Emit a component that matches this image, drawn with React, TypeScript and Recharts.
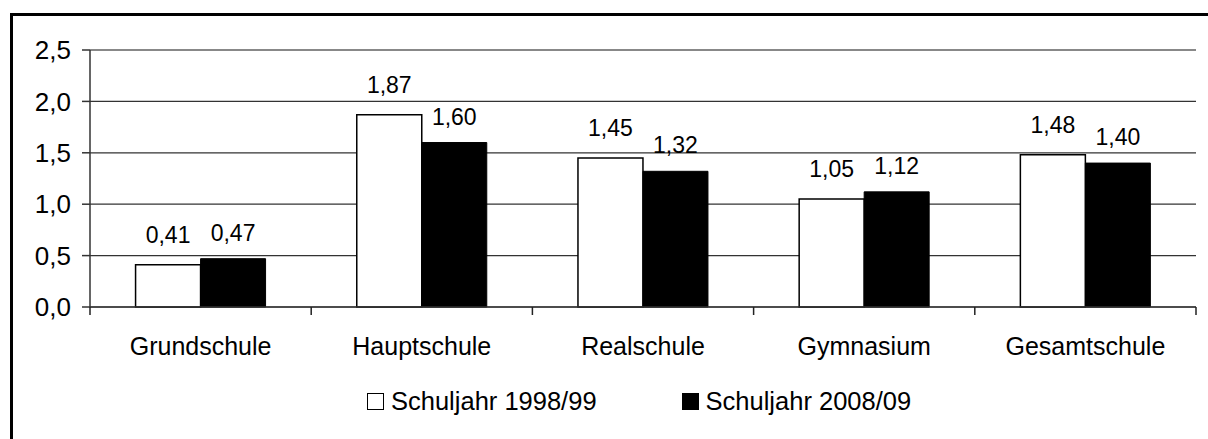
import React from "react";
import { BarChart, Bar, XAxis, YAxis, CartesianGrid, LabelList, Legend, ReferenceLine } from "recharts";

const categories = ["Grundschule", "Hauptschule", "Realschule", "Gymnasium", "Gesamtschule"];
const series1998 = [0.41, 1.87, 1.45, 1.05, 1.48];
const series2008 = [0.47, 1.6, 1.32, 1.12, 1.4];
const seriesNames = ["Schuljahr 1998/99", "Schuljahr 2008/09"];
const yTicks = [0, 0.5, 1.0, 1.5, 2.0, 2.5];

const data = categories.map((c, i) => ({ name: c, a: series1998[i], b: series2008[i] }));

const W = 1208;
const H = 439;
const M = { top: 50, right: 12, left: 0, bottom: 72 };
const Y_W = 90;
const PLOT_W = W - M.right - M.left - Y_W;
const FONT = "'Liberation Sans', Arial, sans-serif";

const CatTick = (props: any) => {
  const { x, y, payload, index } = props;
  const band = PLOT_W / categories.length;
  const axisY = y - 30;
  return (
    <g>
      <line x1={x - band / 2} x2={x - band / 2} y1={axisY} y2={axisY + 8} stroke="#222" strokeWidth={1.5} />
      {index === categories.length - 1 && (
        <line x1={x + band / 2} x2={x + band / 2} y1={axisY} y2={axisY + 8} stroke="#222" strokeWidth={1.5} />
      )}
      <text x={x} y={y} dy="0.71em" textAnchor="middle" fill="#000" fontSize={25} fontFamily={FONT}>
        {payload.value}
      </text>
    </g>
  );
};

const fmt1 = (v: number) => v.toFixed(1).replace(".", ",");
const fmt2 = (v: any) => Number(v).toFixed(2).replace(".", ",");

const LegendContent = () => (
  <div style={{ position: "absolute", top: 387, left: 367, display: "flex", alignItems: "center", fontFamily: FONT, fontSize: 25.5, color: "#000", whiteSpace: "nowrap" }}>
    <div style={{ width: 15, height: 15, border: "1.5px solid #000", background: "#fff", marginRight: 7 }} />
    <span>{seriesNames[0]}</span>
    <div style={{ width: 17, height: 17, background: "#000", marginLeft: 85, marginRight: 7 }} />
    <span>{seriesNames[1]}</span>
  </div>
);

export default function App() {
  return (
    <div style={{ position: "fixed", top: 0, left: 0, width: W, height: H, background: "#fff", overflow: "hidden" }}>
      <div style={{ position: "absolute", left: 10, top: 13, width: 1400, height: 600, border: "3px solid #000" }} />
      <div style={{ position: "absolute", left: 0, top: 0 }}>
        <BarChart width={W} height={H} data={data} margin={M} barCategoryGap="20.6%" barGap={0}>
          <CartesianGrid vertical={false} stroke="#333" strokeWidth={1.2} />
          <XAxis
            dataKey="name"
            height={60}
            tickLine={false}
            tickSize={8}
            tickMargin={22}
            axisLine={{ stroke: "#333", strokeWidth: 1.5 }}
            tick={<CatTick />}
            interval={0}
          />
          <YAxis
            width={Y_W}
            domain={[0, 2.5]}
            ticks={yTicks}
            tickFormatter={fmt1}
            tickSize={8}
            tickMargin={11}
            axisLine={{ stroke: "#333", strokeWidth: 1.5 }}
            tickLine={{ stroke: "#333", strokeWidth: 1.5 }}
            tick={{ fill: "#000", fontSize: 26, fontFamily: FONT }}
          />
          <YAxis yAxisId="r" orientation="right" width={0} tick={false} tickLine={false} axisLine={{ stroke: "#888", strokeWidth: 2 }} />
          <ReferenceLine y={2.5} stroke="#888" strokeWidth={2} />
          <Legend content={<LegendContent />} wrapperStyle={{ top: 0, left: 0, width: W, height: 0 }} />
          <Bar dataKey="a" name={seriesNames[0]} fill="#fff" stroke="#000" strokeWidth={1.5} isAnimationActive={false}>
            <LabelList dataKey="a" position="top" offset={22} formatter={fmt2} fill="#000" fontSize={23} fontFamily={FONT} />
          </Bar>
          <Bar dataKey="b" name={seriesNames[1]} fill="#000" stroke="#000" strokeWidth={1} isAnimationActive={false}>
            <LabelList dataKey="b" position="top" offset={18} formatter={fmt2} fill="#000" fontSize={23} fontFamily={FONT} />
          </Bar>
        </BarChart>
      </div>
    </div>
  );
}
